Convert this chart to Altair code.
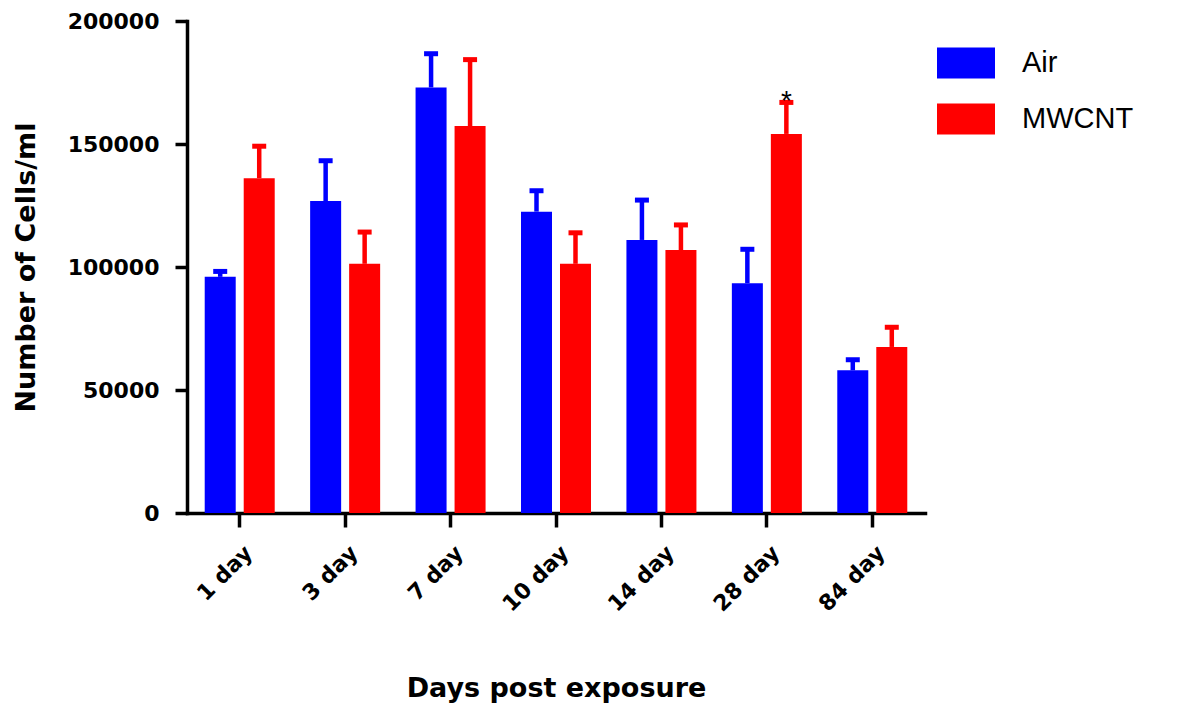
import altair as alt
import pandas as pd

days = ["1 day", "3 day", "7 day", "10 day", "14 day", "28 day", "84 day"]
groups = ["Air", "MWCNT"]
air_mean = [96000, 126800, 173000, 122500, 111000, 93400, 58000]
air_sem = [2200, 16400, 13700, 8500, 16200, 13800, 4300]
mwcnt_mean = [136100, 101300, 157300, 101300, 106900, 154100, 67500]
mwcnt_sem = [13000, 12900, 27000, 12600, 10200, 12800, 8000]
mwcnt_sig = ["", "", "", "", "", "*", ""]
y_ticks = [0, 50000, 100000, 150000, 200000]
colors = ["#0000ff", "#ff0000"]

rows = []
for i, d in enumerate(days):
    rows.append({"day": d, "group": "Air", "mean": air_mean[i], "sem": air_sem[i], "sig": ""})
    rows.append({"day": d, "group": "MWCNT", "mean": mwcnt_mean[i], "sem": mwcnt_sem[i], "sig": mwcnt_sig[i]})
df = pd.DataFrame(rows)
df["upper"] = df["mean"] + df["sem"]

FONT = "DejaVu Sans"
LFONT = "Liberation Sans"

x_enc = alt.X(
    "day:N",
    sort=days,
    scale=alt.Scale(paddingInner=0.336, paddingOuter=0.168),
    axis=alt.Axis(
        title="Days post exposure",
        titleFontSize=27,
        titleFontWeight="bold",
        titleFont=FONT,
        titleY=183,
        titleBaseline="alphabetic",
        labelAngle=-45,
        labelAlign="right",
        labelBaseline="middle",
        labelFontSize=22,
        labelFontWeight="bold",
        labelFont=FONT,
        labelPadding=22,
        labelOffset=9,
        tickSize=14,
        tickWidth=3.5,
        domainWidth=3.5,
        domainCap="square",
    ),
)
xoff_enc = alt.XOffset("group:N", sort=groups, scale=alt.Scale(paddingInner=0.205, paddingOuter=0))
y_scale = alt.Scale(domain=[0, 200000], nice=False)

base = alt.Chart(df)

bars = base.mark_bar(stroke=None).encode(
    x=x_enc,
    xOffset=xoff_enc,
    y=alt.Y(
        "mean:Q",
        scale=y_scale,
        axis=alt.Axis(
            title="Number of Cells/ml",
            titleFontSize=27,
            titleFontWeight="bold",
            titleFont=FONT,
            titleX=-161,
            titleBaseline="middle",
            values=y_ticks,
            format="d",
            labelFontSize=22,
            labelFontWeight="bold",
            labelFont=FONT,
            labelPadding=16,
            tickSize=12,
            tickWidth=3.5,
            domainWidth=3.5,
            domainCap="square",
            grid=False,
        ),
    ),
    color=alt.Color(
        "group:N",
        sort=groups,
        scale=alt.Scale(domain=groups, range=colors),
        legend=alt.Legend(
            title=None,
            orient="none",
            legendX=750,
            legendY=13,
            padding=0,
            symbolType="M-1,-0.534H1V0.534H-1Z",
            symbolSize=3364,
            symbolStrokeWidth=0,
            labelFontSize=29,
            labelFont=LFONT,
            labelFontWeight="normal",
            labelOffset=27,
            rowPadding=11,
        ),
    ),
)

err = base.mark_rule(strokeWidth=4.5, opacity=1).encode(
    x=alt.X("day:N", sort=days),
    xOffset=alt.XOffset("group:N", sort=groups),
    y=alt.Y("mean:Q", scale=y_scale),
    y2="upper:Q",
    color=alt.Color("group:N", sort=groups, scale=alt.Scale(domain=groups, range=colors), legend=None),
)

caps = base.mark_tick(size=14, thickness=5, opacity=1).encode(
    x=alt.X("day:N", sort=days),
    xOffset=alt.XOffset("group:N", sort=groups),
    y=alt.Y("upper:Q", scale=y_scale),
    color=alt.Color("group:N", sort=groups, scale=alt.Scale(domain=groups, range=colors), legend=None),
)

stars = base.transform_filter("datum.sig != ''").mark_text(
    fontSize=28, font=LFONT, baseline="alphabetic", dy=8, color="black"
).encode(
    x=alt.X("day:N", sort=days),
    xOffset=alt.XOffset("group:N", sort=groups),
    y=alt.Y("upper:Q", scale=y_scale),
    text="sig:N",
)

chart = (
    alt.layer(bars, err, caps, stars)
    .properties(
        width=738,
        height=492,
        autosize=alt.AutoSizeParams(type="none"),
        padding={"left": 187, "top": 21, "right": 252, "bottom": 200},
        background="white",
    )
    .configure_view(stroke=None)
    .configure_axis(domainColor="black", tickColor="black", labelColor="black", titleColor="black")
    .configure_legend(labelColor="black")
)

chart.save("out.html", embed_options={"renderer": "svg", "actions": False})
